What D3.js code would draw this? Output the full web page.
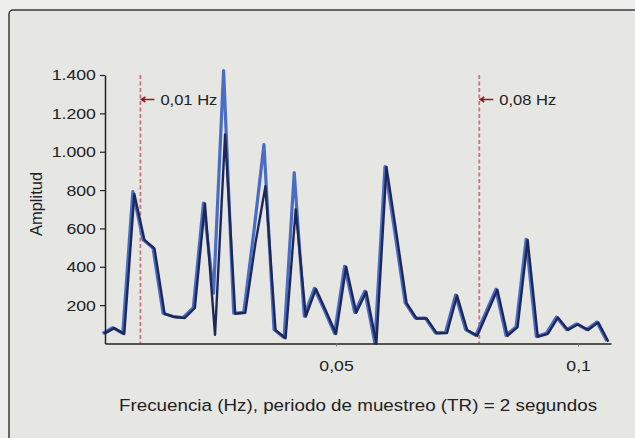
<!DOCTYPE html>
<html>
<head>
<meta charset="utf-8">
<script src="https://cdn.jsdelivr.net/npm/d3@7"></script>
<style>
  html, body { margin: 0; padding: 0; background: #eeeeec; }
  svg { display: block; }
  text { font-family: "Liberation Sans", Arial, sans-serif; fill: #222; }
</style>
</head>
<body>
<script>
// frequencies of the spectrum bins (Hz), TR = 2 s
const freq = [0.00208, 0.00417, 0.00625, 0.00833, 0.01042, 0.0125, 0.01458, 0.01667, 0.01875, 0.02083,
  0.02292, 0.025, 0.02708, 0.02917, 0.03125, 0.03333, 0.03542, 0.0375, 0.03958, 0.04167,
  0.04375, 0.04583, 0.04792, 0.05, 0.05208, 0.05417, 0.05625, 0.05833, 0.06042, 0.0625,
  0.06458, 0.06667, 0.06875, 0.07083, 0.07292, 0.075, 0.07708, 0.07917, 0.08125, 0.08333,
  0.08542, 0.0875, 0.08958, 0.09167, 0.09375, 0.09583, 0.09792, 0.1, 0.10208, 0.10417, 0.10625];

// light blue trace
const ampBlue = [50, 80, 50, 790, 540, 495, 155, 138, 133, 185,
  730, 260, 1420, 155, 160, 580, 1035, 70, 28, 888,
  140, 285, 170, 50, 400, 160, 270, 0, 920, 570,
  210, 130, 130, 53, 55, 250, 70, 40, 160, 280,
  40, 85, 540, 35, 50, 135, 70, 100, 70, 110, 10];

// dark trace
const ampDark = [50, 80, 50, 780, 540, 495, 155, 138, 133, 185,
  730, 45, 1090, 155, 160, 520, 820, 70, 28, 700,
  140, 285, 170, 50, 400, 160, 270, 0, 920, 570,
  210, 130, 130, 53, 55, 250, 70, 40, 160, 280,
  40, 85, 540, 35, 50, 135, 70, 100, 70, 110, 10];

const yTicks = [200, 400, 600, 800, 1000, 1200, 1400];
const xTicks = [0.05, 0.1];
const cutoffs = [0.01, 0.08];
const cutoffLabels = ["0,01 Hz", "0,08 Hz"];

const width = 635, height = 438;
const stretch = "scale(1.14,1)";  // type in the original is a little wide

const es = d3.formatLocale({decimal: ",", thousands: ".", grouping: [3], currency: ["", " €"]});

const x = d3.scaleLinear().domain([0.00227, 0.1068]).range([105, 611]);
const y = d3.scaleLinear().domain([0, 1400]).range([343.5, 75]);

const svg = d3.select("body").append("svg")
    .attr("width", width)
    .attr("height", height);

// frame
svg.append("rect")
    .attr("x", 9).attr("y", 10)
    .attr("width", 640).attr("height", 440)
    .attr("rx", 4)
    .attr("fill", "#e6e6e3")
    .attr("stroke", "#3a3a3a")
    .attr("stroke-width", 1.5);

// cutoff lines
const cut = svg.append("g");
cut.selectAll("line")
  .data(cutoffs)
  .join("line")
    .attr("x1", d => x(d) - 2).attr("x2", d => x(d) - 2)
    .attr("y1", y(1400)).attr("y2", y(0))
    .attr("stroke", "#c9737e")
    .attr("stroke-width", 1.8)
    .attr("stroke-dasharray", "4,2.5");

cut.selectAll("path")
  .data(cutoffs)
  .join("path")
    .attr("d", d => `M${x(d) + 12},99.5 H${x(d) - 1} M${x(d) + 3},97 L${x(d) - 1},99.5 L${x(d) + 3},102`)
    .attr("fill", "none")
    .attr("stroke", "#8a1c2c")
    .attr("stroke-width", 1.5);

cut.selectAll("g")
  .data(cutoffs)
  .join("g")
    .attr("transform", d => `translate(${x(d) + 18},104.5)`)
  .append("text")
    .attr("transform", stretch)
    .attr("font-size", 14.5)
    .text((d, i) => cutoffLabels[i]);

// traces
const line = d3.line()
    .x((d, i) => x(freq[i]))
    .y(d => y(d));

svg.append("path")
    .datum(ampBlue)
    .attr("fill", "none")
    .attr("stroke", "#4a6cc4")
    .attr("stroke-width", 3.2)
    .attr("stroke-linejoin", "round")
    .attr("transform", "translate(-1.5,-0.5)")
    .attr("d", line);

svg.append("path")
    .datum(ampDark)
    .attr("fill", "none")
    .attr("stroke", "#1e2858")
    .attr("stroke-width", 2.4)
    .attr("stroke-linejoin", "round")
    .attr("d", line);

// axes
const yAxis = svg.append("g")
    .attr("transform", "translate(105,0)")
    .call(d3.axisLeft(y).tickValues(yTicks).tickFormat(es.format(",d")).tickSize(5).tickPadding(3).tickSizeOuter(0));
yAxis.select(".domain").attr("stroke", "#222").attr("stroke-width", 1.5);
yAxis.selectAll(".tick line").attr("stroke", "#222").attr("stroke-width", 1.2);
yAxis.selectAll("text").attr("font-size", 15.5).attr("fill", "#222")
    .attr("font-family", "Liberation Sans, Arial, sans-serif")
    .attr("transform", stretch);

const xAxis = svg.append("g")
    .attr("transform", "translate(0,343.5)")
    .call(d3.axisBottom(x).tickValues(xTicks).tickFormat(es.format(".2~f")).tickSize(3).tickPadding(13).tickSizeOuter(0));
xAxis.select(".domain").attr("stroke", "#222").attr("stroke-width", 1.5);
xAxis.selectAll(".tick line").attr("stroke", "#777");
xAxis.selectAll("text").attr("font-size", 15.5).attr("fill", "#222")
    .attr("font-family", "Liberation Sans, Arial, sans-serif")
    .attr("transform", stretch);

// axis titles
svg.append("g")
    .attr("transform", "translate(358,411)")
  .append("text")
    .attr("transform", stretch)
    .attr("text-anchor", "middle")
    .attr("font-size", 16.5)
    .text("Frecuencia (Hz), periodo de muestreo (TR) = 2 segundos");

svg.append("text")
    .attr("transform", "translate(42,204) rotate(-90)")
    .attr("text-anchor", "middle")
    .attr("font-size", 16.5)
    .text("Amplitud");
</script>
</body>
</html>
